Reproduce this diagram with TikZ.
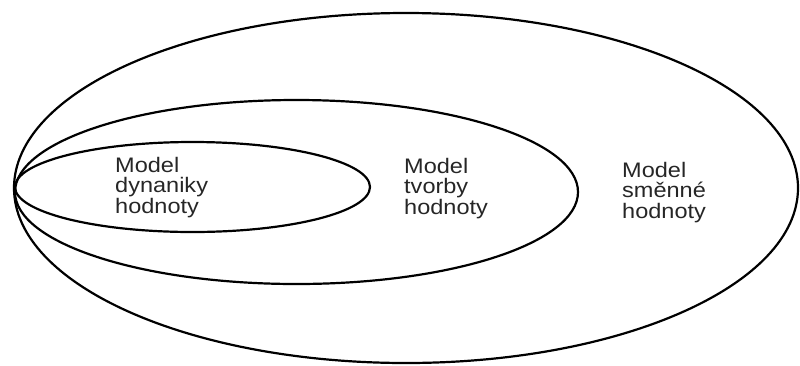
\documentclass[tikz,border=0pt]{standalone}
\usepackage{fontspec}
\setmainfont{Liberation Sans}[FakeStretch=1.12]
\begin{document}
\begin{tikzpicture}[x=1pt,y=-1pt,
  ring/.style={draw=black,line width=2.2pt},
  label/.style={anchor=north west,inner sep=0pt,align=left,
    font=\fontsize{21}{20.5}\selectfont,text=black!85}]
\useasboundingbox (0,0) rectangle (800,365);
% three nested ellipses sharing their left vertex
\draw[ring] (406,188) ellipse [x radius=392,y radius=175];
\draw[ring] (296.5,192) ellipse [x radius=281.5,y radius=92];
\draw[ring] (192.5,187) ellipse [x radius=177.5,y radius=45];
\node[label] (dyn) at (115,157) {Model\\dynaniky\\hodnoty};
\node[label] (tvo) at (404,158) {Model\\tvorby\\hodnoty};
\node[label] (sme) at (622,162) {Model\\směnné\\hodnoty};
\end{tikzpicture}
\end{document}
